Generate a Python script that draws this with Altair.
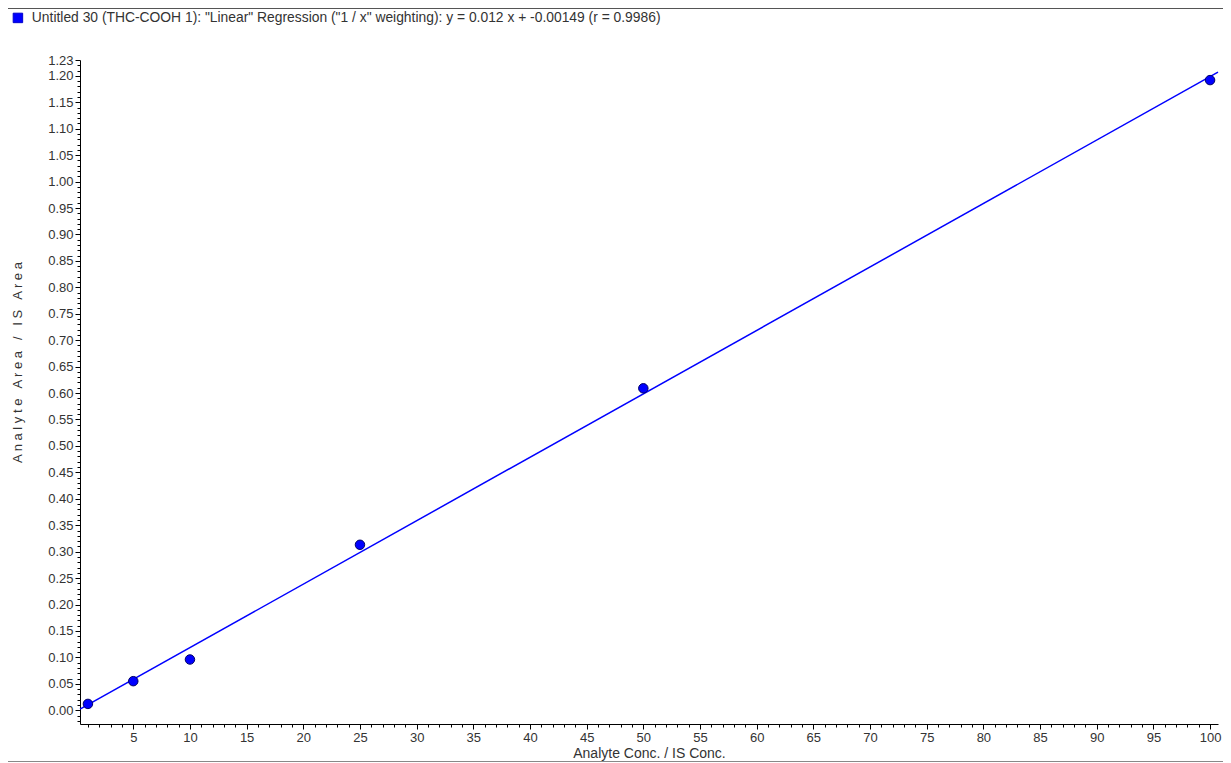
import altair as alt
import pandas as pd

# ---- data ----
conc = [1, 5, 10, 25, 50, 100]
area_ratio = [0.012, 0.055, 0.096, 0.313, 0.609, 1.192]
slope = 0.012
intercept = -0.00149
x_domain = [0.3, 100.7]
y_domain = [-0.026, 1.23]
x_tick_values = list(range(1, 101))
y_tick_values = [round(v * 0.01, 2) for v in range(-2, 124)]
series_label = 'Untitled 30 (THC-COOH 1): "Linear" Regression ("1 / x" weighting): y = 0.012 x + -0.00149 (r = 0.9986)'
NB = "\u00a0"
y_title = f"A n a l y t e {NB} A r e a {NB} / {NB} I S {NB} A r e a"
x_title = "Analyte Conc. / IS Conc."

points = pd.DataFrame({"conc": conc, "ratio": area_ratio, "series": [series_label] * len(conc)})
fit = pd.DataFrame({"conc": x_domain, "ratio": [slope * x + intercept for x in x_domain]})

FONT = "Liberation Sans"
TXT = "#333333"

x_axis = alt.Axis(
    values=x_tick_values,
    labelExpr="datum.value % 5 == 0 ? datum.label : ''",
    tickSize={"condition": {"test": "datum.value % 5 == 0", "value": 5}, "value": 3},
    grid=False, domainColor="black", tickColor="black",
    labelColor=TXT, labelFont=FONT, labelFontSize=13, labelOverlap=False, labelPadding=2,
    title=x_title, titleFont=FONT, titleFontSize=14,
    titleFontWeight="normal", titleColor=TXT,
    titleBaseline="alphabetic", titleAlign="center", titleX=569, titleY=33,
)
y_axis = alt.Axis(
    values=y_tick_values, format=".2f",
    labelExpr="(abs(round(datum.value * 100)) % 5 == 0 || datum.value > 1.225) ? datum.label : ''",
    tickSize={"condition": {"test": "abs(round(datum.value * 100)) % 5 == 0 || datum.value > 1.225", "value": 5}, "value": 3},
    grid=False, domainColor="black", tickColor="black",
    labelColor=TXT, labelFont=FONT, labelFontSize=13, labelOverlap=False, labelPadding=2,
    title=y_title, titleFont=FONT, titleFontSize=13,
    titleFontWeight="normal", titleColor=TXT,
    titleAngle=270, titleAlign="center", titleBaseline="bottom", titleX=-56, titleY=302,
)

X = alt.X("conc:Q", scale=alt.Scale(domain=x_domain, nice=False, zero=False), axis=x_axis)
Y = alt.Y("ratio:Q", scale=alt.Scale(domain=y_domain, nice=False, zero=False), axis=y_axis)

line = alt.Chart(fit).mark_line(color="#0000ff", strokeWidth=1.5).encode(x=X, y=Y)

dots = alt.Chart(points).mark_point(filled=True, size=90, opacity=1, stroke="#000066", strokeWidth=1).encode(
    x=X, y=Y,
    color=alt.Color("series:N", scale=alt.Scale(range=["#0000ff"]), legend=alt.Legend(
        orient="none", legendX=-69, legendY=-49, title=None, symbolType="square",
        symbolSize=90, symbolStrokeColor="#0000cc", symbolStrokeWidth=1, labelFont=FONT,
        labelFontSize=13.85, labelColor=TXT, labelLimit=1000, labelOffset=7,
    )),
)

one = pd.DataFrame({"a": [0]})
top_rule = alt.Chart(one).mark_rule(color="#555555", strokeWidth=1).encode(
    x=alt.value(-72), x2=alt.value(1143), y=alt.value(-51.5))
bottom_rule = alt.Chart(one).mark_rule(color="#888888", strokeWidth=1).encode(
    x=alt.value(-72), x2=alt.value(1143), y=alt.value(701.5))

chart = alt.layer(top_rule, bottom_rule, line, dots).properties(
    width=1138, height=664,
    padding={"left": 72, "top": 52, "right": 5, "bottom": 39},
    autosize=alt.AutoSizeParams(type="none"),
    background="white",
).configure_view(stroke=None)

chart.save("out.html", embed_options={"renderer": "svg", "actions": False})
